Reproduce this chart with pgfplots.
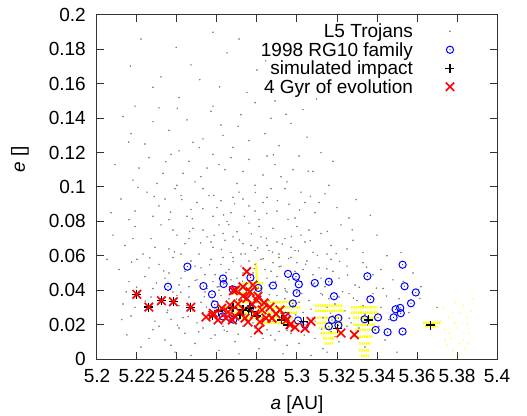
\documentclass[border=0pt]{standalone}
\usepackage{pgfplots}
\usepackage{pgfplotstable}
\pgfplotsset{compat=1.18}
\usepackage{fontspec}
\setmainfont{Liberation Sans}

\definecolor{trojan}{RGB}{125,125,125}
\definecolor{famblue}{RGB}{0,0,255}
\definecolor{evored}{RGB}{255,0,0}
\definecolor{simyellow}{RGB}{255,255,0}
\definecolor{paleyellow}{RGB}{255,255,150}

\pgfdeclareplotmark{odot}{%
  \pgfpathcircle{\pgfpointorigin}{\pgfplotmarksize}\pgfusepathqstroke
  \pgfpathcircle{\pgfpointorigin}{0.6pt}\pgfusepathqfill}

% L5 Trojans (background)
\pgfplotstableread{
a e
5.222 0.186
5.258 0.190
5.232 0.164
5.247 0.171
5.265 0.178
5.280 0.168
5.275 0.155
5.241 0.152
5.219 0.147
5.289 0.150
5.258 0.147
5.228 0.158
5.300 0.160
5.271 0.186
5.213 0.141
5.236 0.133
5.245 0.139
5.253 0.128
5.262 0.136
5.272 0.142
5.284 0.131
5.297 0.137
5.224 0.125
5.241 0.121
5.257 0.144
5.268 0.123
5.279 0.149
5.291 0.124
5.305 0.129
5.217 0.131
5.231 0.146
5.263 0.130
5.248 0.126
5.287 0.140
5.303 0.145
5.312 0.120
5.276 0.127
5.228 0.138
5.209 0.113
5.218 0.104
5.226 0.117
5.233 0.108
5.240 0.101
5.246 0.115
5.252 0.106
5.258 0.119
5.264 0.110
5.270 0.102
5.276 0.116
5.283 0.107
5.289 0.113
5.295 0.103
5.301 0.118
5.308 0.109
5.316 0.101
5.221 0.111
5.237 0.119
5.249 0.103
5.261 0.113
5.273 0.109
5.285 0.118
5.298 0.110
5.255 0.111
5.243 0.108
5.267 0.117
5.279 0.101
5.292 0.106
5.230 0.102
5.212 0.093
5.219 0.086
5.225 0.097
5.231 0.089
5.236 0.081
5.242 0.095
5.247 0.087
5.253 0.099
5.258 0.083
5.262 0.092
5.267 0.085
5.271 0.097
5.276 0.089
5.281 0.081
5.285 0.094
5.290 0.086
5.294 0.099
5.299 0.082
5.304 0.091
5.309 0.085
5.314 0.096
5.320 0.088
5.326 0.082
5.216 0.081
5.228 0.083
5.239 0.099
5.250 0.091
5.256 0.095
5.265 0.080
5.273 0.093
5.279 0.086
5.287 0.099
5.296 0.090
5.302 0.097
5.260 0.088
5.245 0.083
5.283 0.091
5.268 0.094
5.234 0.093
5.311 0.091
5.208 0.072
5.214 0.066
5.219 0.077
5.223 0.061
5.227 0.070
5.232 0.078
5.236 0.064
5.240 0.072
5.244 0.067
5.248 0.076
5.251 0.061
5.255 0.071
5.258 0.065
5.261 0.078
5.264 0.069
5.267 0.062
5.270 0.074
5.273 0.067
5.276 0.079
5.279 0.063
5.282 0.071
5.285 0.066
5.288 0.076
5.291 0.061
5.294 0.070
5.297 0.065
5.300 0.077
5.304 0.068
5.308 0.062
5.312 0.073
5.317 0.066
5.322 0.078
5.328 0.069
5.333 0.062
5.340 0.072
5.229 0.065
5.242 0.061
5.253 0.075
5.263 0.073
5.272 0.061
5.281 0.077
5.290 0.068
5.299 0.063
5.306 0.075
5.315 0.061
5.246 0.070
5.257 0.068
5.268 0.071
5.277 0.066
5.286 0.063
5.238 0.075
5.218 0.070
5.302 0.072
5.325 0.064
5.211 0.052
5.216 0.045
5.220 0.058
5.224 0.048
5.228 0.041
5.231 0.055
5.234 0.047
5.238 0.059
5.241 0.043
5.244 0.051
5.247 0.057
5.250 0.046
5.252 0.053
5.255 0.041
5.257 0.058
5.259 0.049
5.262 0.055
5.264 0.044
5.266 0.052
5.268 0.059
5.270 0.047
5.272 0.054
5.274 0.042
5.276 0.057
5.278 0.050
5.280 0.045
5.282 0.058
5.284 0.052
5.286 0.043
5.288 0.056
5.290 0.048
5.292 0.054
5.294 0.041
5.297 0.059
5.299 0.051
5.302 0.045
5.305 0.057
5.308 0.049
5.311 0.053
5.314 0.042
5.317 0.058
5.321 0.047
5.325 0.054
5.329 0.043
5.333 0.056
5.338 0.049
5.343 0.041
5.348 0.046
5.226 0.053
5.236 0.050
5.246 0.042
5.254 0.049
5.261 0.042
5.267 0.046
5.273 0.050
5.279 0.055
5.285 0.047
5.291 0.059
5.296 0.046
5.303 0.052
5.309 0.042
5.318 0.051
5.249 0.054
5.263 0.059
5.277 0.043
5.287 0.051
5.300 0.056
5.312 0.047
5.242 0.047
5.258 0.045
5.213 0.032
5.217 0.025
5.221 0.038
5.225 0.029
5.229 0.022
5.232 0.035
5.235 0.027
5.238 0.039
5.241 0.031
5.243 0.024
5.246 0.036
5.248 0.028
5.250 0.021
5.252 0.033
5.254 0.039
5.256 0.026
5.258 0.034
5.260 0.022
5.262 0.037
5.264 0.029
5.266 0.035
5.268 0.023
5.270 0.039
5.272 0.031
5.274 0.026
5.276 0.036
5.278 0.021
5.280 0.033
5.282 0.038
5.284 0.027
5.286 0.034
5.288 0.022
5.290 0.037
5.292 0.029
5.294 0.035
5.296 0.024
5.298 0.031
5.300 0.039
5.303 0.027
5.306 0.034
5.309 0.022
5.312 0.038
5.315 0.030
5.318 0.025
5.321 0.036
5.324 0.028
5.327 0.021
5.330 0.034
5.334 0.026
5.338 0.038
5.342 0.030
5.346 0.023
5.351 0.035
5.356 0.027
5.227 0.036
5.237 0.023
5.245 0.031
5.253 0.027
5.259 0.030
5.265 0.025
5.271 0.034
5.277 0.029
5.283 0.031
5.289 0.026
5.295 0.039
5.301 0.033
5.307 0.029
5.313 0.024
5.319 0.032
5.326 0.038
5.333 0.031
5.219 0.030
5.240 0.037
5.261 0.040
5.279 0.038
5.297 0.021
5.316 0.035
5.336 0.022
5.215 0.014
5.222 0.007
5.228 0.017
5.234 0.011
5.239 0.004
5.244 0.015
5.249 0.009
5.253 0.018
5.257 0.012
5.261 0.005
5.265 0.016
5.269 0.010
5.273 0.019
5.277 0.013
5.281 0.006
5.285 0.017
5.289 0.011
5.293 0.003
5.297 0.015
5.301 0.009
5.305 0.018
5.309 0.012
5.313 0.006
5.317 0.016
5.321 0.010
5.325 0.019
5.329 0.013
5.334 0.007
5.339 0.017
5.344 0.011
5.350 0.004
5.231 0.019
5.247 0.002
5.259 0.014
5.271 0.003
5.283 0.012
5.295 0.008
5.307 0.002
5.319 0.013
5.331 0.018
5.226 0.012
5.241 0.018
5.263 0.019
5.279 0.018
5.299 0.019
5.315 0.004
5.341 0.019
5.237 0.008
5.291 0.016
5.362 0.042
5.358 0.050
5.370 0.030
5.205 0.058
5.207 0.085
5.345 0.060
5.352 0.062
5.318 0.115
5.342 0.052
5.2334 0.0512
5.2387 0.0623
5.2419 0.0388
5.2463 0.0741
5.2491 0.0457
5.2518 0.0675
5.2537 0.0362
5.2563 0.0548
5.2586 0.0719
5.2601 0.0419
5.2622 0.0637
5.2645 0.0503
5.2659 0.0781
5.2681 0.0566
5.2697 0.0348
5.2713 0.0692
5.2728 0.0452
5.2741 0.0611
5.2759 0.0387
5.2772 0.0728
5.2786 0.0525
5.2803 0.0646
5.2818 0.0411
5.2831 0.0583
5.2847 0.0702
5.2862 0.0374
5.2878 0.0621
5.2893 0.0449
5.2911 0.0537
5.2926 0.0668
5.2943 0.0398
5.2958 0.0584
5.2972 0.0712
5.2989 0.0467
5.3007 0.0629
5.3024 0.0381
5.3043 0.0551
5.3066 0.0688
5.3081 0.0436
5.3102 0.0602
5.3127 0.0373
5.3149 0.0524
5.3171 0.0447
5.3196 0.0613
5.3228 0.0392
5.3253 0.0488
5.3282 0.0354
5.3311 0.0417
5.2353 0.0283
5.2402 0.0196
5.2456 0.0247
5.2509 0.0158
5.2547 0.0302
5.2593 0.0213
5.2636 0.0168
5.2673 0.0281
5.2706 0.0144
5.2748 0.0226
5.2794 0.0157
5.2826 0.0243
5.2869 0.0138
5.2907 0.0275
5.2951 0.0166
5.2994 0.0256
5.3036 0.0139
5.3079 0.0238
5.3123 0.0173
5.3168 0.0266
5.3214 0.0148
5.3261 0.0237
5.3307 0.0162
5.3352 0.0198
5.2297 0.0442
5.2264 0.0588
5.2241 0.0337
5.2198 0.0418
5.2173 0.0563
5.2146 0.0391
5.2124 0.0229
5.2368 0.0854
5.2424 0.0927
5.2477 0.0816
5.2529 0.0874
5.2584 0.0951
5.2633 0.0838
5.2688 0.0903
5.2737 0.0829
5.2792 0.0968
5.2849 0.0847
5.2902 0.0921
5.2955 0.0812
5.3012 0.0866
5.3067 0.0945
5.2286 0.0945
5.2205 0.0998
5.2344 0.1147
5.2511 0.1229
5.2706 0.1353
5.2882 0.1187
5.3056 0.1092
5.2158 0.1261
5.2402 0.1457
5.2613 0.1582
5.2945 0.1423
5.2167 0.1703
5.2514 0.1624
5.2843 0.1734
5.3098 0.1512
5.2396 0.1812
5.3152 0.0742
5.3213 0.0567
5.3276 0.0751
5.3348 0.0534
5.3397 0.0412
5.3448 0.0366
5.3531 0.0451
5.3614 0.0352
5.3296 0.0927
5.3367 0.0835
}\trojans

% 1998 RG10 family
\pgfplotstableread{
a e
5.2452 0.0537
5.2355 0.0420
5.2532 0.0424
5.2575 0.0376
5.2589 0.0317
5.2630 0.0468
5.2633 0.0436
5.2679 0.0405
5.2628 0.0248
5.2682 0.0229
5.2767 0.0473
5.2807 0.0413
5.2880 0.0427
5.2955 0.0495
5.2998 0.0383
5.2979 0.0323
5.2765 0.0294
5.2944 0.0250
5.3005 0.0224
5.2995 0.0478
5.3009 0.0434
5.3089 0.0442
5.3159 0.0449
5.3185 0.0365
5.3040 0.0198
5.3175 0.0227
5.3207 0.0238
5.3159 0.0190
5.3207 0.0196
5.3352 0.0481
5.3367 0.0347
5.3338 0.0231
5.3405 0.0242
5.3393 0.0169
5.3453 0.0156
5.3528 0.0548
5.3538 0.0423
5.3594 0.0387
5.3570 0.0324
5.3493 0.0289
5.3516 0.0297
5.3519 0.0266
5.3483 0.0242
5.3528 0.0160
}\family

% simulated impact
\pgfplotstableread{
a e
5.2199 0.0376
5.2259 0.0302
5.2322 0.0339
5.2382 0.0333
5.2469 0.0301
5.2579 0.0254
5.2607 0.0279
5.2680 0.0297
5.2730 0.0285
5.2757 0.0281
5.2774 0.0275
5.2765 0.0297
5.2715 0.0256
5.2800 0.0250
5.2924 0.0227
5.2952 0.0198
5.3033 0.0218
5.3203 0.0176
5.3358 0.0227
5.3669 0.0197
}\impact

% 4 Gyr of evolution
\pgfplotstableread{
a e
5.2199 0.0376
5.2259 0.0302
5.2322 0.0339
5.2382 0.0333
5.2469 0.0301
5.2579 0.0254
5.2749 0.0508
5.2682 0.0397
5.2749 0.0353
5.2799 0.0343
5.2582 0.0266
5.2624 0.0295
5.2677 0.0227
5.2807 0.0169
5.2915 0.0285
5.2940 0.0246
5.2965 0.0198
5.2949 0.0227
5.2990 0.0184
5.3040 0.0178
5.3070 0.0219
5.3220 0.0151
5.3287 0.0141
5.2705 0.0320
5.2730 0.0366
5.2765 0.0390
5.2775 0.0320
5.2715 0.0273
5.2740 0.0238
5.2790 0.0262
5.2825 0.0285
5.2845 0.0238
5.2865 0.0302
5.2655 0.0273
5.2645 0.0238
5.2690 0.0250
5.2755 0.0215
5.2815 0.0215
5.2875 0.0238
5.2895 0.0262
5.2730 0.0419
5.2780 0.0430
5.2605 0.0227
5.2545 0.0244
5.2665 0.0314
5.2805 0.0366
5.2835 0.0326
5.2693 0.0401
}\evolved

% yellow streaks of the simulated fragments (start/end of each streak)
\pgfplotstableread{
a e
5.2795 0.056
5.2805 0.040
nan nan
5.273 0.044
5.283 0.044
nan nan
5.270 0.041
5.283 0.041
nan nan
5.268 0.038
5.280 0.038
nan nan
5.268 0.033
5.300 0.033
nan nan
5.264 0.030
5.302 0.030
nan nan
5.266 0.027
5.300 0.027
nan nan
5.270 0.024
5.298 0.024
nan nan
5.280 0.021
5.300 0.021
nan nan
5.309 0.031
5.323 0.031
nan nan
5.309 0.028
5.324 0.028
nan nan
5.310 0.024
5.322 0.024
nan nan
5.310 0.021
5.323 0.021
nan nan
5.311 0.018
5.321 0.018
nan nan
5.312 0.015
5.321 0.015
nan nan
5.313 0.012
5.319 0.012
nan nan
5.314 0.009
5.318 0.009
nan nan
5.327 0.030
5.340 0.030
nan nan
5.327 0.027
5.341 0.027
nan nan
5.328 0.024
5.340 0.024
nan nan
5.328 0.020
5.339 0.020
nan nan
5.329 0.017
5.339 0.017
nan nan
5.330 0.013
5.338 0.013
nan nan
5.331 0.009
5.337 0.009
nan nan
5.331 0.005
5.336 0.005
nan nan
5.332 0.002
5.336 0.002
nan nan
5.363 0.021
5.372 0.021
nan nan
5.364 0.019
5.370 0.019
}\streaks

\pgfplotstableread{
a e
5.373 0.030
5.376 0.024
5.379 0.033
5.382 0.027
5.385 0.020
5.374 0.017
5.377 0.012
5.380 0.018
5.383 0.011
5.386 0.015
5.375 0.008
5.378 0.005
5.381 0.009
5.384 0.006
5.387 0.028
5.372 0.022
5.388 0.035
5.379 0.021
5.383 0.031
5.376 0.015
5.381 0.003
5.374 0.011
5.386 0.009
5.378 0.027
5.385 0.024
}\faint

\begin{document}
\fontsize{19bp}{22bp}\selectfont
\begin{tikzpicture}
\begin{axis}[
    scale only axis,
    width=400bp, height=344bp,
    xmin=5.2, xmax=5.4,
    ymin=0, ymax=0.2,
    xtick={5.2,5.22,5.24,5.26,5.28,5.3,5.32,5.34,5.36,5.38,5.4},
    xticklabels={5.2,5.22,5.24,5.26,5.28,5.3,5.32,5.34,5.36,5.38,5.4},
    ytick={0,0.02,0.04,0.06,0.08,0.1,0.12,0.14,0.16,0.18,0.2},
    yticklabels={0,0.02,0.04,0.06,0.08,0.1,0.12,0.14,0.16,0.18,0.2},
    scaled ticks=false,
    tick align=inside,
    major tick length=7bp,
    axis line style={line width=1bp, black!80},
    every tick/.style={line width=1bp, black!80},
    yticklabel style={anchor=east, inner sep=0pt, xshift=-11bp},
    xticklabel style={anchor=north, inner sep=0pt, yshift=-10bp},
    xlabel={\textit{a} [AU]},
    ylabel={\textit{e} []},
    xlabel style={at={(axis description cs:0.5,-0.1337)}, anchor=center},
    ylabel style={at={(axis description cs:-0.1925,0.58)}, anchor=center},
    unbounded coords=jump,
    legend cell align=right,
    legend plot pos=right,
    legend image code/.code={%
      \path[draw=none, fill=none] (-8bp,-4bp) rectangle (8bp,4bp);
      \draw[#1] plot coordinates {(0bp,2bp)};},
    legend style={draw=none, fill=none, inner sep=0pt, outer sep=0pt,
      at={(axis description cs:0.9025,0.9738)}, anchor=north east,
      row sep=0pt,
      nodes={inner sep=0pt, text height=13.6bp, text depth=4.9bp},
      /tikz/every odd column/.append style={column sep=29bp}},
]
\addplot[only marks, mark=*, mark size=0.55bp, color=trojan] table[x=a, y=e] {\trojans};
\addlegendentry{L5 Trojans}
\addplot[forget plot, only marks, mark=*, mark size=0.9bp, color=paleyellow] table[x=a, y=e] {\faint};
\addplot[forget plot, color=simyellow, line width=2.4bp, dash pattern=on 1.6bp off 0.7bp] table[x=a, y=e] {\streaks};
\addplot[only marks, mark=odot, mark size=3.6bp, line width=1bp, color=famblue] table[x=a, y=e] {\family};
\addlegendentry{1998 RG10 family}
\addplot[only marks, mark=+, mark size=4.5bp, line width=1.3bp, color=black] table[x=a, y=e] {\impact};
\addlegendentry{simulated impact}
\addplot[only marks, mark=x, mark size=6bp, line width=1.7bp, color=evored] table[x=a, y=e] {\evolved};
\addlegendentry{4 Gyr of evolution}
\end{axis}
\pgfresetboundingbox
\path[use as bounding box] (-97bp,-57bp) rectangle (430bp,359bp);
\end{tikzpicture}
\end{document}
